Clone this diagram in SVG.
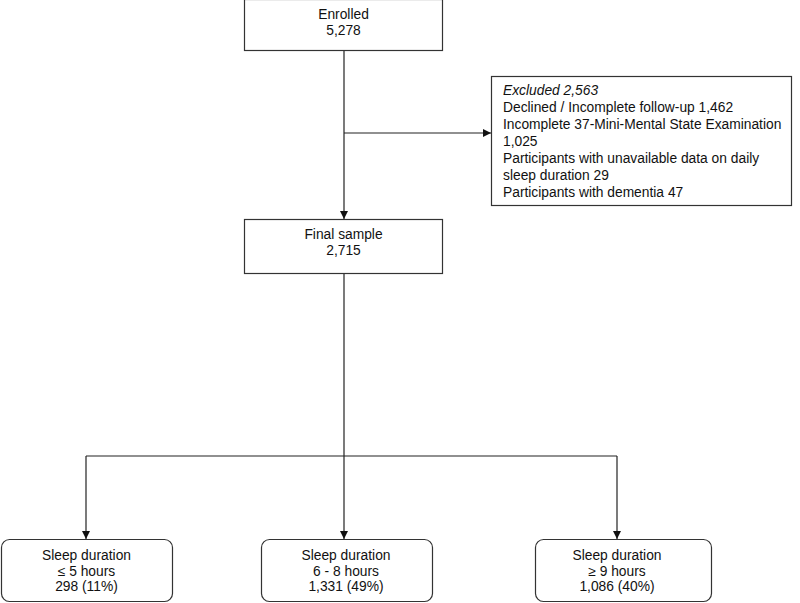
<svg xmlns="http://www.w3.org/2000/svg" width="800" height="603" viewBox="0 0 800 603">
<style>
.box{fill:#fff;stroke:#333;stroke-width:1.2}
.t{font-family:"Liberation Sans",Arial,sans-serif;font-size:13.8px;fill:#111}
.c{text-anchor:middle}
.ln{fill:none;stroke:#222;stroke-width:1.2}
</style>
<defs>
<marker id="ah" viewBox="0 0 10 10" refX="10" refY="5" markerWidth="8" markerHeight="8" markerUnits="userSpaceOnUse" orient="auto">
<path d="M0,0 L10,5 L0,10 z" fill="#111"/>
</marker>
</defs>
<rect width="800" height="603" fill="#fff"/>
<g id="connectors">
<line class="ln" x1="344" y1="51" x2="344" y2="219" marker-end="url(#ah)"/>
<line class="ln" x1="344" y1="133" x2="491" y2="133" marker-end="url(#ah)"/>
<line class="ln" x1="344" y1="274" x2="344" y2="539" marker-end="url(#ah)"/>
<line class="ln" x1="86" y1="456" x2="617" y2="456"/>
<line class="ln" x1="86" y1="456" x2="86" y2="539" marker-end="url(#ah)"/>
<line class="ln" x1="617" y1="456" x2="617" y2="539" marker-end="url(#ah)"/>
</g>
<g id="enrolled">
<rect class="box" x="244.5" y="-0.5" width="198" height="51"/>
<text class="t c" x="343.5" y="19">Enrolled</text>
<text class="t c" x="343.5" y="34.5">5,278</text>
</g>
<g id="excluded">
<rect class="box" x="491.5" y="76.5" width="300" height="129"/>
<text class="t" x="503" y="95"><tspan font-style="italic">Excluded 2,563</tspan></text>
<text class="t" x="503" y="112">Declined / Incomplete follow-up 1,462</text>
<text class="t" x="503" y="129">Incomplete 37-Mini-Mental State Examination</text>
<text class="t" x="503" y="146">1,025</text>
<text class="t" x="503" y="163">Participants with unavailable data on daily</text>
<text class="t" x="503" y="180">sleep duration 29</text>
<text class="t" x="503" y="197">Participants with dementia 47</text>
</g>
<g id="final">
<rect class="box" x="244.5" y="219.5" width="198" height="54"/>
<text class="t c" x="343.5" y="239">Final sample</text>
<text class="t c" x="343.5" y="254.5">2,715</text>
</g>
<g id="sleep-low">
<rect class="box" x="1.5" y="539.5" width="171" height="62" rx="8"/>
<text class="t c" x="86.5" y="560">Sleep duration</text>
<text class="t c" x="86.5" y="575.5">≤ 5 hours</text>
<text class="t c" x="86.5" y="591">298 (11%)</text>
</g>
<g id="sleep-mid">
<rect class="box" x="261.5" y="539.5" width="171" height="62" rx="8"/>
<text class="t c" x="346" y="560">Sleep duration</text>
<text class="t c" x="346" y="575.5">6 - 8 hours</text>
<text class="t c" x="346" y="591">1,331 (49%)</text>
</g>
<g id="sleep-high">
<rect class="box" x="535.5" y="539.5" width="176" height="62" rx="8"/>
<text class="t c" x="617" y="560">Sleep duration</text>
<text class="t c" x="617" y="575.5">≥ 9 hours</text>
<text class="t c" x="617" y="591">1,086 (40%)</text>
</g>
</svg>
